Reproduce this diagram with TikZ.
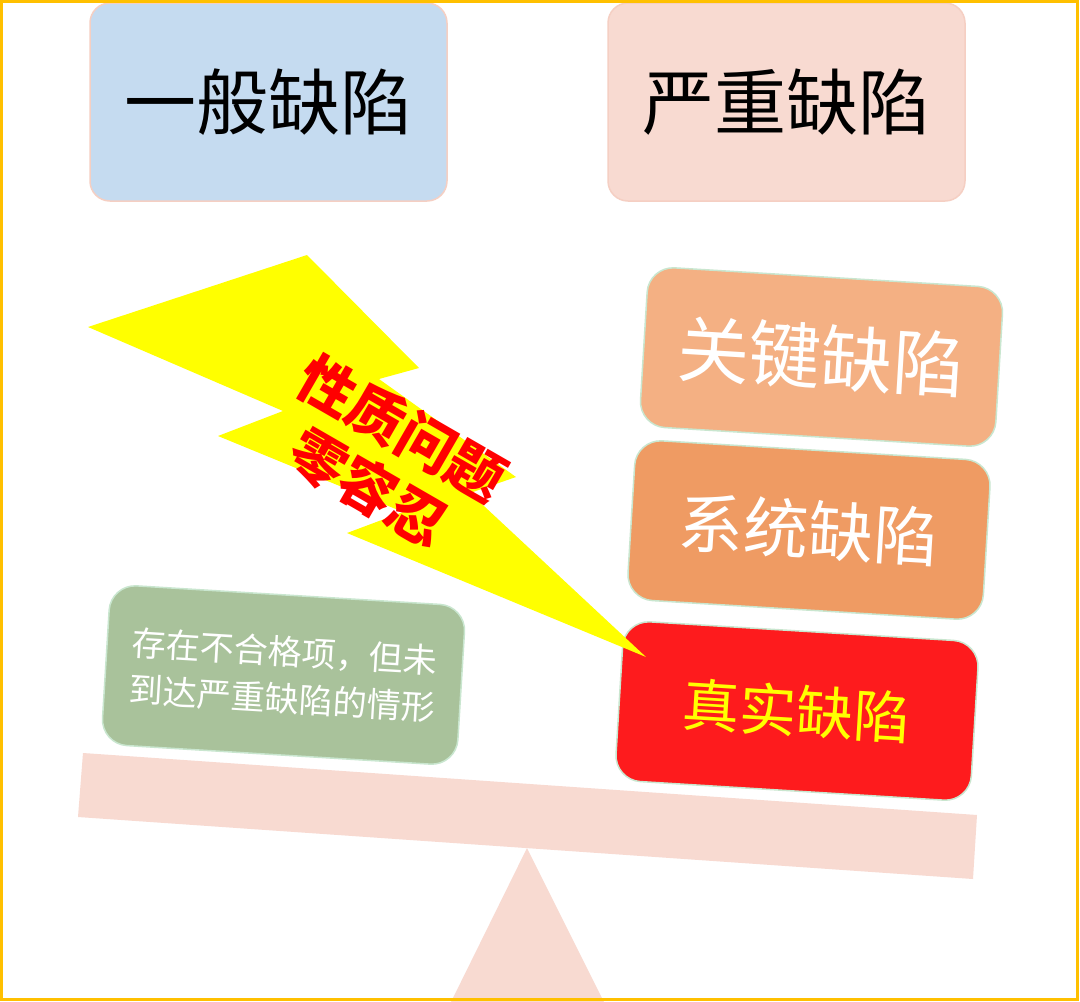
\documentclass[tikz,border=0pt]{standalone}
\usepackage{fontspec}
\newfontfamily\cjk{Noto Sans CJK SC}
\definecolor{framecol}{HTML}{FFC000}
\definecolor{bluebox}{HTML}{C5DBF0}
\definecolor{pinkbox}{HTML}{F8DAD1}
\definecolor{pinkline}{HTML}{F5CFC3}
\definecolor{keybox}{HTML}{F4B083}
\definecolor{sysbox}{HTML}{EF9B63}
\definecolor{realbox}{HTML}{FE1B1D}
\definecolor{greenbox}{HTML}{A9C29B}
\definecolor{greenline}{HTML}{C9E6CF}
\definecolor{boltyellow}{HTML}{FFFF00}
\definecolor{beamcol}{HTML}{F8DAD1}
\begin{document}
\begin{tikzpicture}[x=1pt,y=-1pt,
  topbox/.style={draw=pinkline, line width=1.5pt, rounded corners=20pt,
    minimum width=357pt, minimum height=198pt, inner sep=0pt,
    font=\cjk\fontsize{72}{80}\selectfont, text=black},
  tiltbox/.style={draw=greenline, line width=1.5pt, rounded corners=26pt,
    minimum width=356pt, minimum height=160pt, inner sep=0pt, align=center,
    rotate=-3.5, text=white},
]
\useasboundingbox (0,0) rectangle (1080,1002);
\fill[white] (0,0) rectangle (1080,1002);

% top boxes
\node[topbox, fill=bluebox] (general) at (268.5,102) {一般缺陷};
\node[topbox, fill=pinkbox] (severe) at (786.5,102) {严重缺陷};

% balance beam and fulcrum
\fill[beamcol] (527,848) -- (604,1002) -- (451,1002) -- cycle;
\fill[beamcol] (83,753) -- (977,815) -- (973,879) -- (78,817) -- cycle;

% right stack
\node[tiltbox, fill=keybox, font=\cjk\fontsize{72}{80}\selectfont] (key) at (821.5,357) {关键缺陷};
\node[tiltbox, fill=sysbox, font=\cjk\fontsize{65}{72}\selectfont] (sys) at (809,530) {系统缺陷};
\node[tiltbox, fill=realbox, text=boltyellow, font=\cjk\fontsize{57}{64}\selectfont] (real) at (797,711) {真实缺陷};

% left box
\node[tiltbox, fill=greenbox, font=\cjk\fontsize{34}{47}\selectfont] (minor) at (283.5,675) {存在不合格项，但未\\到达严重缺陷的情形};

% lightning bolt
\fill[boltyellow] (307,255) -- (419,368) -- (379,379) -- (516,477) -- (470,493)
  -- (646,657) -- (347,533) -- (403,512) -- (218,436) -- (283,411) -- (88,327) -- cycle;
\node[text=red, rotate=-30, align=center, inner sep=0pt,
  font=\cjk\bfseries\fontsize{57}{68}\selectfont] (slogan) at (385,458) {性质问题\\零容忍};

% frame
\draw[framecol, line width=3pt] (1.5,1.5) rectangle (1077,999.5);
\end{tikzpicture}
\end{document}
